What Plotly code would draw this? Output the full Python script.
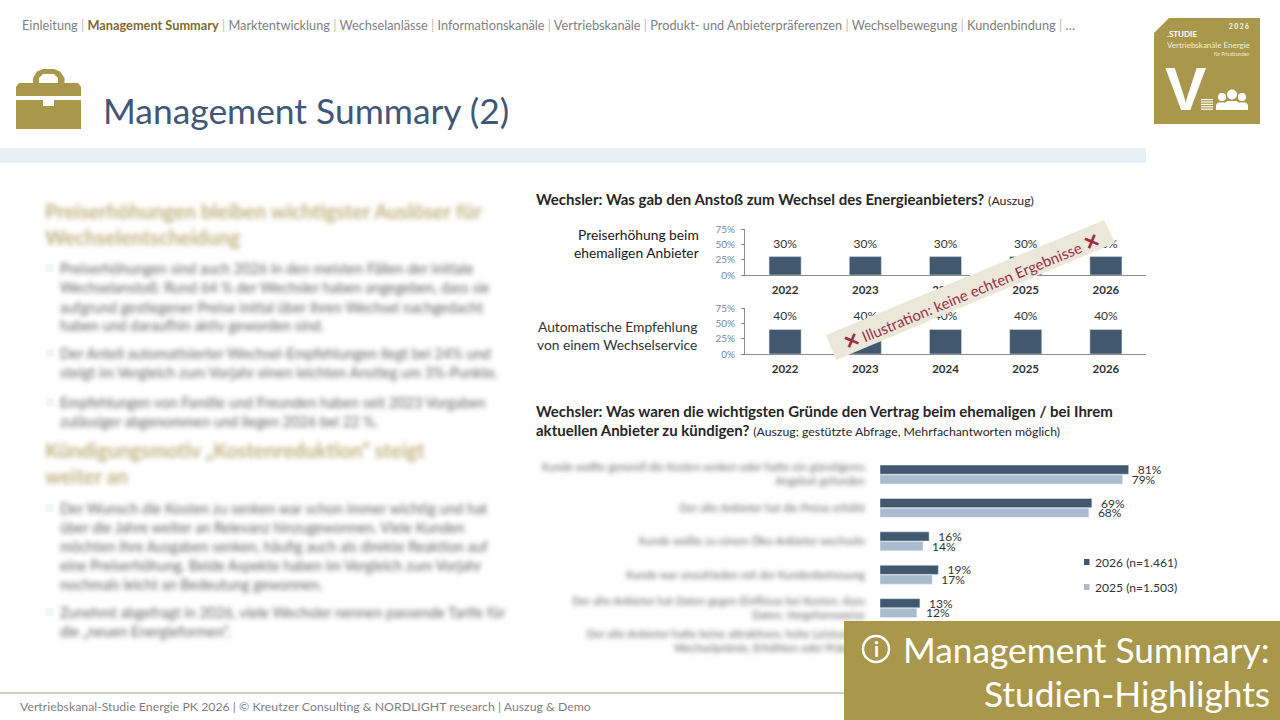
import plotly.graph_objects as go

FONT = "Lato"
GOLD = "#a9974c"
NAVY = "#41586f"
LIGHT = "#aabbce"
BLUR_HEAD = "rgb(171, 151, 82)"
BLUR_BODY = "rgb(71, 72, 73)"

# DATA
years = ["2022", "2023", "2024", "2025", "2026"]
anstoss_preis = [30, 30, 30, 30, 30]
anstoss_service = [40, 40, 40, 40, 40]
y_ticks = [0, 25, 50, 75]

gruende = [
    "Kunde wollte generell die Kosten senken oder hatte ein günstigeres<br>Angebot gefunden",
    "Der alte Anbieter hat die Preise erhöht",
    "Kunde wollte zu einem Öko-Anbieter wechseln",
    "Kunde war unzufrieden mit der Kundenbetreuung",
    "Der alte Anbieter hat Daten gegen Einflüsse bei Kosten, dazu<br>Daten, Vorgehensweise",
    "Der alte Anbieter hatte keine attraktiven, hohe Leistungen<br>Wechselprämie, Erhöhten oder Prämien",
]
werte_2026 = [81, 69, 16, 19, 13, 10]
werte_2025 = [79, 68, 14, 17, 12, 9]
legende = ["2026 (n=1.461)", "2025 (n=1.503)"]

nav_items = ["Einleitung", "<b style='color:#7d6c2f'>Management Summary</b>", "Marktentwicklung",
             "Wechselanlässe", "Informationskanäle", "Vertriebskanäle",
             "Produkt- und Anbieterpräferenzen", "Wechselbewegung", "Kundenbindung", "…"]

heads = [
    ("Preiserhöhungen bleiben wichtigster Auslöser für", 211),
    ("Wechselentscheidung", 237),
    ("Kündigungsmotiv „Kostenreduktion“ steigt", 450),
    ("weiter an", 476),
]
body = [
    ("Preiserhöhungen sind auch 2026 in den meisten Fällen der initiale", 268),
    ("Wechselanstoß: Rund 64 % der Wechsler haben angegeben, dass sie", 287),
    ("aufgrund gestiegener Preise initial über ihren Wechsel nachgedacht", 307),
    ("haben und daraufhin aktiv geworden sind.", 326),
    ("Der Anteil automatisierter Wechsel-Empfehlungen liegt bei 24% und", 353),
    ("steigt im Vergleich zum Vorjahr einen leichten Anstieg um 3%-Punkte.", 372),
    ("Empfehlungen von Familie und Freunden haben seit 2023 Vorgaben", 402),
    ("zulässiger abgenommen und liegen 2026 bei 22 %.", 421),
    ("Der Wunsch die Kosten zu senken war schon immer wichtig und hat", 508),
    ("über die Jahre weiter an Relevanz hinzugewonnen. Viele Kunden", 527),
    ("möchten ihre Ausgaben senken, häufig auch als direkte Reaktion auf", 546),
    ("eine Preiserhöhung. Beide Aspekte haben im Vergleich zum Vorjahr", 565),
    ("nochmals leicht an Bedeutung gewonnen.", 584),
    ("Zunehmt abgefragt in 2026, viele Wechsler nennen passende Tarife für", 612),
    ("die „neuen Energieformen“.", 631),
]
bullets = [268, 353, 402, 508, 612]


def px(x):
    return x / 1280


def py(y):
    return 1 - y / 720


annots = []
shapes = []


def txt(x, y, text, size=11, color="#333333", anchor="left", font=FONT, **kw):
    annots.append(dict(xref="paper", yref="paper", x=px(x), y=py(y), text=text, showarrow=False,
                       xanchor=anchor, yanchor="middle", borderpad=0,
                       font=dict(size=size, color=color, family=font), **kw))


def rect(x0, y0, x1, y1, color):
    shapes.append(dict(type="rect", xref="paper", yref="paper", x0=px(x0), x1=px(x1), y0=py(y0), y1=py(y1),
                       fillcolor=color, line_width=0))


def poly(points, color):
    path = "M " + " L ".join(f"{px(a)},{py(b)}" for a, b in points) + " Z"
    shapes.append(dict(type="path", xref="paper", yref="paper", path=path, fillcolor=color, line_width=0))


def circle(cx, cy, r, fill, line=None, width=0):
    shapes.append(dict(type="circle", xref="paper", yref="paper", x0=px(cx - r), x1=px(cx + r),
                       y0=py(cy + r), y1=py(cy - r), fillcolor=fill,
                       line=dict(color=line or fill, width=width)))


fig = go.Figure()

# small column charts
for i, vals in enumerate([anstoss_preis, anstoss_service]):
    xa, ya = ("x", "y") if i == 0 else ("x2", "y2")
    fig.add_trace(go.Bar(x=years, y=vals, xaxis=xa, yaxis=ya, marker_color=NAVY, width=0.4, showlegend=False))
    # hidden markers push the labels away from the bars
    fig.add_trace(go.Scatter(x=years, y=vals, xaxis=xa, yaxis=ya, mode="markers+text", showlegend=False,
                             marker=dict(size=8, opacity=0), text=[f"{v}%" for v in vals],
                             textposition="top center", textfont=dict(size=12, color="#333333", family=FONT),
                             cliponaxis=False))

# horizontal bars
fig.add_trace(go.Bar(y=gruende, x=werte_2026, orientation="h", xaxis="x3", yaxis="y3", marker_color=NAVY,
                     text=[f"&nbsp;&nbsp;{v}%" for v in werte_2026], textposition="outside", cliponaxis=False,
                     constraintext="none", textfont=dict(size=12, color="#333333", family=FONT), showlegend=False))
fig.add_trace(go.Bar(y=gruende, x=werte_2025, orientation="h", xaxis="x3", yaxis="y3", marker_color=LIGHT,
                     text=[f"&nbsp;&nbsp;{v}%" for v in werte_2025], textposition="outside", cliponaxis=False,
                     constraintext="none", textfont=dict(size=12, color="#333333", family=FONT), showlegend=False))

small_x = dict(type="category", showgrid=False, showline=True, linecolor="#8c8c8c", linewidth=1, ticks="",
               tickfont=dict(size=11.5, color="#333333", family=FONT), ticklabelstandoff=4, tickprefix="<b>",
               ticksuffix="</b>", domain=[px(745), px(1146)], fixedrange=True)
small_y = dict(range=[0, 75], tickvals=y_ticks, ticktext=[f"{v}%" for v in y_ticks], showgrid=False, zeroline=False,
               showline=True, linecolor="#8c8c8c", linewidth=1, ticks="outside", ticklen=3, tickcolor="#8c8c8c",
               tickfont=dict(size=10, color="#7b8798", family=FONT), ticklabelstandoff=4, fixedrange=True)

# header
txt(21, 25, " <span style='color:#bbbbbb'>|</span> ".join(nav_items), 12.75, "#808080")
txt(102, 110.5, "Management Summary (2)", 35.4, "#3f5878")
rect(0, 148, 1146, 163, "#e9eff7")

# briefcase
poly([(33, 83), (33, 78), (37, 71.5), (43, 69), (54, 69), (60, 71.5), (64.5, 78), (64.5, 83),
      (58, 83), (58, 78), (54, 74), (43, 74), (39, 78), (39, 83)], GOLD)
poly([(16, 87), (19, 83), (78, 83), (81, 87), (81, 96), (16, 96)], GOLD)
poly([(16, 100), (43, 100), (43, 106), (54, 106), (54, 100), (81, 100), (81, 129), (16, 129)], GOLD)

# logo
poly([(1169, 18), (1260, 18), (1260, 124), (1154, 124), (1154, 33)], GOLD)
txt(1250, 27, "<b>2 0 2 6</b>", 6.5, "#ffffff", "right")
txt(1166, 34, "<b>.STUDIE</b>", 8, "#ffffff")
txt(1166, 45, "Vertriebskanäle Energie", 8, "#f3eedb")
txt(1250, 54, "für Privatkunden", 4.8, "#f3eedb", "right")
txt(1185, 88, "<b>V</b>", 62, "#ffffff", "center", font="Liberation Sans")
for k in range(5):
    rect(1201, 99 + k * 2.4, 1213, 100.2 + k * 2.4, "#ffffff")
for cx, cy, r, w in [(1222, 97, 4, 6), (1242, 97, 4, 6), (1232, 94.5, 5, 7)]:
    circle(cx, cy, r, "#ffffff")
    poly([(cx - w, 110), (cx - w, cy + r + 4), (cx - w + 2, cy + r + 1.5), (cx + w - 2, cy + r + 1.5),
          (cx + w, cy + r + 4), (cx + w, 110)], "#ffffff")

# blurred left text
for t, y in heads:
    txt(44, y, f"<b>{t}</b>", 20, BLUR_HEAD)
for t, y in body:
    txt(59, y, t, 14.4, BLUR_BODY)
for y in bullets:
    rect(46, y - 4, 54, y + 4, "#f2f5fa")

# chart headers
txt(535, 199, "<b>Wechsler: Was gab den Anstoß zum Wechsel des Energieanbieters?</b>"
    " <span style='font-size:12.3px'>(Auszug)</span>", 15, "#262626")
txt(535, 411, "<b>Wechsler: Was waren die wichtigsten Gründe den Vertrag beim ehemaligen / bei Ihrem</b>", 15, "#262626")
txt(535, 430, "<b>aktuellen Anbieter zu kündigen?</b>"
    " <span style='font-size:12.3px'>(Auszug; gestützte Abfrage, Mehrfachantworten möglich)</span>", 15, "#262626")
txt(638, 235, "Preiserhöhung beim", 13.8, "#1a1a1a", "center")
txt(636, 253, "ehemaligen Anbieter", 13.8, "#1a1a1a", "center")
txt(617, 327, "Automatische Empfehlung", 13.8, "#333333", "center")
txt(617, 344, "von einem Wechselservice", 13.8, "#333333", "center")

# legend
for label, color, y in zip(legende, [NAVY, LIGHT], [562, 587]):
    rect(1084, y - 3, 1089.5, y + 3, color)
    txt(1094, y, label, 12.1, "#333333")

# banner over the charts
poly([(826, 335), (1104, 220), (1115, 243), (836, 360)], "#ece8d9")
txt(970.5, 290, "<span style='font-size:19px'><b>✕</b></span> Illustration: keine echten Ergebnisse "
    "<span style='font-size:19px'><b>✕</b></span>", 15, "#9b2d4a", "center", textangle=-22.5)

# footer
shapes.append(dict(type="line", xref="paper", yref="paper", x0=0, x1=px(844), y0=py(693), y1=py(693),
                   line=dict(color="#a7a27f", width=1)))
txt(19, 706, "Vertriebskanal-Studie Energie PK 2026 | © Kreutzer Consulting &amp; NORDLIGHT research | Auszug &amp; Demo",
    12.3, "#7f7f7f")

# overlay box
rect(844, 621, 1280, 720, GOLD)
circle(876, 649, 13, "rgba(0,0,0,0)", "#ffffff", 2.5)
txt(876, 649, "<b>i</b>", 20, "#ffffff", "center")
txt(1271, 649, "Management Summary:", 35.3, "#ffffff", "right")
txt(1271, 693, "Studien-Highlights", 35.3, "#ffffff", "right")

fig.update_layout(
    width=1280, height=720, margin=dict(l=0, r=0, t=0, b=0, autoexpand=False), autosize=False,
    paper_bgcolor="white", plot_bgcolor="white", font=dict(family=FONT),
    barmode="group", bargap=0.42, bargroupgap=0.05,
    annotations=annots, shapes=shapes,
    xaxis=dict(small_x, anchor="y"),
    yaxis=dict(small_y, domain=[py(275), py(229)], anchor="x"),
    xaxis2=dict(small_x, anchor="y2"),
    yaxis2=dict(small_y, domain=[py(354), py(308)], anchor="x2"),
    xaxis3=dict(range=[0, 100], domain=[px(880), px(1187)], anchor="y3", visible=False, fixedrange=True),
    yaxis3=dict(domain=[py(658.2), py(457.8)], anchor="x3", type="category", autorange="reversed",
                showline=False, ticks="", showgrid=False, ticklabelstandoff=14, fixedrange=True,
                tickfont=dict(size=11, family=FONT, color=BLUR_BODY)),
)

# the left column and the reason labels are blurred in the slide
blur_js = """
document.body.style.margin = '0';
var gd = document.getElementById('{plot_id}');
function blurTexts() {
  gd.querySelectorAll('text').forEach(function (t) {
    var f = t.style.fill;
    if (f === '%s') { t.style.filter = 'blur(2.8px)'; t.style.opacity = '0.75'; }
    if (f === '%s') { t.style.filter = 'blur(2.6px)'; t.style.opacity = '0.85'; }
  });
}
blurTexts();
gd.on('plotly_afterplot', blurTexts);
""" % (BLUR_HEAD, BLUR_BODY)

fig.write_html("out.html", config=dict(displayModeBar=False), post_script=blur_js)
